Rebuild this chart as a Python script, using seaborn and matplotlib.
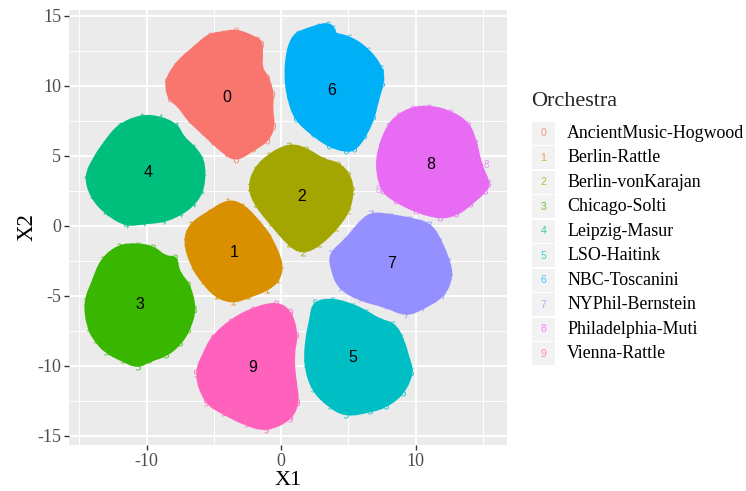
import numpy as np
import pandas as pd
import seaborn as sns
import matplotlib.pyplot as plt
from matplotlib.patches import Rectangle, PathPatch
from matplotlib.path import Path

orchestras = ["AncientMusic-Hogwood", "Berlin-Rattle", "Berlin-vonKarajan", "Chicago-Solti",
              "Leipzig-Masur", "LSO-Haitink", "NBC-Toscanini", "NYPhil-Bernstein",
              "Philadelphia-Muti", "Vienna-Rattle"]
colors = ["#F8766D", "#D89000", "#A3A500", "#39B600", "#00BF7D",
          "#00BFC4", "#00B0F6", "#9590FF", "#E76BF3", "#FF62BC"]

# cluster outlines
x0 = [-3.31, -1.82, -1.52, -1.57, -1.57, -1.07, -0.70, -0.82, -0.62, -1.07, -2.06, -3.31, -4.05, -5.05, -5.80, -6.79, -7.54, -8.28, -8.46, -7.79, -7.04, -6.29, -5.30, -4.30]
y0 = [13.9, 13.3, 13.0, 12.15, 11.2, 10.6, 9.4, 8.33, 7.13, 6.17, 5.57, 4.81, 5.22, 6.05, 6.77, 7.61, 8.68, 9.16, 10.36, 11.44, 12.15, 12.75, 13.59, 13.71]
x1 = [-3.93, -2.81, -1.57, -0.82, -0.02, -0.20, -1.07, -2.44, -3.56, -4.80, -5.80, -6.54, -7.09, -6.67, -5.30]
y1 = [1.75, 1.39, 0.07, -0.89, -2.68, -3.76, -4.47, -4.95, -5.36, -4.95, -3.88, -2.80, -1.12, 0.07, 0.91]
x2 = [0.62, 1.86, 3.10, 4.22, 4.96, 5.26, 4.96, 4.09, 2.85, 1.61, 0.62, -0.74, -1.86, -2.28, -1.86, -0.87]
y2 = [5.74, 5.41, 4.62, 4.38, 3.66, 2.58, 1.15, -0.05, -1.24, -1.84, -1.24, 0.31, 1.63, 2.82, 4.02, 4.98]
x3 = [-10.65, -9.53, -8.66, -7.91, -7.84, -7.59, -6.92, -6.47, -6.92, -7.54, -8.53, -9.78, -10.65, -11.77, -13.01, -13.76, -14.25, -14.50, -13.88, -13.26, -12.01]
y3 = [-1.41, -1.60, -2.32, -2.32, -2.80, -3.52, -4.23, -5.91, -7.34, -8.30, -9.14, -9.50, -9.98, -9.50, -8.90, -8.06, -7.22, -5.43, -4.0, -2.44, -1.48]
x4 = [-10.40, -9.03, -7.79, -7.41, -6.54, -5.92, -5.80, -5.92, -6.54, -7.54, -8.78, -10.27, -11.52, -13.01, -14.0, -14.45, -13.76, -13.01, -12.01]
y4 = [7.78, 7.68, 7.13, 6.29, 5.57, 4.74, 3.78, 2.58, 1.63, 0.91, 0.43, 0.31, 0.14, 1.03, 2.11, 3.54, 4.86, 5.93, 7.13]
x5 = [2.50, 3.86, 5.35, 6.34, 7.33, 8.32, 8.94, 9.43, 9.68, 9.06, 7.82, 6.58, 4.85, 3.61, 2.38, 1.88, 2.0, 2.33]
y5 = [-5.52, -5.33, -5.76, -6.24, -6.83, -7.07, -8.02, -9.69, -10.40, -11.83, -12.79, -13.14, -13.45, -12.79, -11.60, -9.81, -8.02, -6.60]
x6 = [1.24, 2.73, 3.47, 3.85, 3.80, 5.09, 6.45, 7.44, 7.49, 7.07, 6.82, 6.20, 5.46, 4.84, 3.60, 2.36, 1.12, 0.62, 0.42, 0.57, 0.87]
y6 = [13.71, 14.19, 14.35, 14.07, 13.64, 13.40, 12.51, 11.20, 10.24, 9.04, 7.85, 6.53, 5.57, 5.45, 5.81, 6.65, 7.73, 9.28, 10.72, 12.39, 13.23]
x7 = [6.71, 8.07, 9.55, 11.04, 11.78, 12.40, 12.60, 12.03, 10.54, 9.31, 7.82, 5.84, 4.36, 3.86, 3.74, 4.85, 5.84]
y7 = [0.83, 0.67, 0.43, 0.07, -1.12, -2.55, -3.62, -4.93, -5.76, -6.29, -5.64, -5.17, -4.33, -3.02, -2.02, -1.12, 0.07]
x8 = [9.80, 11.04, 12.53, 13.90, 14.39, 14.76, 15.38, 15.14, 14.02, 13.03, 11.79, 10.05, 8.56, 7.57, 7.20, 7.44, 8.06, 8.81]
y8 = [8.33, 8.44, 8.09, 7.25, 5.93, 4.26, 3.06, 2.58, 1.63, 0.91, 0.67, 1.15, 1.87, 2.58, 4.26, 5.69, 7.13, 7.85]
x9 = [-0.35, 0.64, 1.09, 0.77, 0.94, 1.19, 0.64, -1.09, -2.57, -4.31, -5.54, -6.29, -5.54, -5.05, -3.69, -2.08]
y9 = [-5.57, -6.17, -7.79, -9.21, -11.12, -12.55, -13.74, -14.50, -14.10, -13.26, -12.55, -10.52, -8.98, -8.02, -6.83, -6.0]
xs = [x0, x1, x2, x3, x4, x5, x6, x7, x8, x9]
ys = [y0, y1, y2, y3, y4, y5, y6, y7, y8, y9]

center_x = [-4.0, -3.5, 1.5, -10.5, -9.9, 5.35, 3.8, 8.2, 11.1, -2.1]
center_y = [9.2, -1.9, 2.1, -5.6, 3.8, -9.4, 9.7, -2.7, 4.4, -10.1]

# the few loose labels outside the blobs
stray_digit = ["8", "8", "3", "3"]
stray_x = [7.27, 15.26, -8.03, -8.53]
stray_y = [2.58, 4.33, -2.51, -2.5]

xticks = [-10, 0, 10]
yticks = [-15, -10, -5, 0, 5, 10, 15]
xminor = [-15, -5, 5, 15]
yminor = [-12.5, -7.5, -2.5, 2.5, 7.5, 12.5]

sns.set_style("darkgrid", {"axes.facecolor": "#EBEBEB", "grid.color": "white"})
plt.rcParams["font.family"] = ["Liberation Serif", "DejaVu Serif"]

W, H = 746, 491
fig = plt.figure(figsize=(W / 100, H / 100), dpi=100)
ax = fig.add_axes([69 / W, 1 - 445 / H, (507 - 69) / W, (445 - 10) / H])


def blob_path(px, py):
    # closed quadratic curve with the outline points as control points
    verts = []
    codes = []
    n = len(px)
    for k in range(n):
        nx, ny = px[(k + 1) % n], py[(k + 1) % n]
        mid = ((px[k] + nx) / 2, (py[k] + ny) / 2)
        if k == 0:
            start = ((px[-1] + px[0]) / 2, (py[-1] + py[0]) / 2)
            verts.append(start)
            codes.append(Path.MOVETO)
        verts += [(px[k], py[k]), mid]
        codes += [Path.CURVE3, Path.CURVE3]
    return Path(verts, codes)


for i in range(10):
    ax.add_patch(PathPatch(blob_path(xs[i], ys[i]), facecolor=colors[i], edgecolor=colors[i],
                           lw=4, joinstyle="round", zorder=2))
    # each record is plotted as its digit, as in the original
    df = pd.DataFrame({"X1": xs[i], "X2": ys[i]})
    sns.scatterplot(data=df, x="X1", y="X2", color=colors[i], marker=f"${i}$", s=32,
                    linewidth=0, alpha=0.8, legend=False, ax=ax, zorder=3)

for d, x, y in zip(stray_digit, stray_x, stray_y):
    ax.text(x, y, d, color=colors[int(d)], alpha=0.7, fontsize=7, family="Liberation Sans",
            ha="center", va="center", zorder=3)
for i in range(10):
    ax.text(center_x[i], center_y[i], str(i), color="black", fontsize=11.5, family="Liberation Sans",
            ha="center", va="center", zorder=5)

ax.set_xlim((69 - 281) / 13.45, (507 - 281) / 13.45)
ax.set_ylim((226 - 445) / 14.0, (226 - 10) / 14.0)
ax.set_xticks(xticks)
ax.set_xticklabels([str(t) for t in xticks])
ax.set_yticks(yticks)
ax.set_yticklabels([str(t) for t in yticks])
ax.set_xticks(xminor, minor=True)
ax.set_yticks(yminor, minor=True)
ax.grid(True, which="major", color="white", lw=1.4)
ax.grid(True, which="minor", color="white", lw=0.7)
ax.set_axisbelow(True)
ax.tick_params(which="major", length=3.5, width=1, color="#333333", labelcolor="#4D4D4D",
               labelsize=13, bottom=True, left=True, pad=2)
ax.tick_params(which="minor", length=0)
ax.set_xlabel("X1", fontsize=16, color="black", labelpad=1)
ax.set_ylabel("X2", fontsize=16.5, color="black", labelpad=0)
sns.despine(ax=ax, left=True, bottom=True, right=True, top=True)

# legend drawn by hand so the keys look like ggplot's digit keys
fig.text(531 / W, 1 - 101 / H, "Orchestra", fontsize=16, va="center", ha="left")
for i, name in enumerate(orchestras):
    yc = 133.3 + i * 24.5
    fig.add_artist(Rectangle((532 / W, 1 - (yc + 11.5) / H), 23 / W, 23 / H,
                             transform=fig.transFigure, color="#F2F2F2", lw=0))
    fig.text(543.5 / W, 1 - yc / H, str(i), color=colors[i], alpha=0.75, fontsize=7.5,
             family="Liberation Sans", ha="center", va="center")
    fig.text(567 / W, 1 - yc / H, name, fontsize=12.9, color="black", ha="left", va="center")

fig.savefig("out.png", dpi=100)
